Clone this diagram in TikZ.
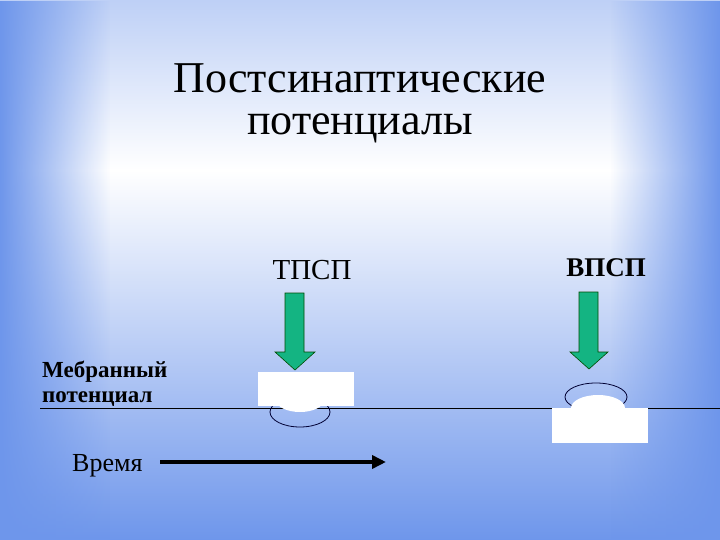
\documentclass[tikz,border=0pt]{standalone}
\usepackage{fontspec}
\setmainfont{Liberation Serif}
\usetikzlibrary{fadings,arrows.meta}
\definecolor{bgblue}{RGB}{110,150,235}
\definecolor{arrgreen}{RGB}{20,180,130}
\tikzset{
  garrow/.style={fill=arrgreen,draw=black!70!green,line width=0.6pt},
  wbox/.style={fill=white,draw=none},
  rim/.style={draw=black!80!blue,line width=0.8pt},
}
\begin{document}
\begin{tikzpicture}[x=1pt,y=-1pt]
\useasboundingbox (0,0) rectangle (720,540);
% background
\shade[top color=bgblue!45,bottom color=white] (0,0) rectangle (720,170);
\shade[top color=white,bottom color=bgblue] (0,170) rectangle (720,540);
\fill[bgblue,path fading=east] (0,0) rectangle (110,540);
\fill[bgblue,path fading=west] (610,0) rectangle (720,540);
% title
\node (t1) at (360,78) {\fontsize{44}{48}\selectfont Постсинаптические};
\node (t2) at (360,128) {\fontsize{44}{48}\selectfont потенциалы};
\node (l1) at (312,270) {\fontsize{29}{32}\selectfont ТПСП};
\node (l2) at (606,268) {\fontsize{27}{30}\selectfont\bfseries ВПСП};
% membrane line
\coordinate (m0) at (40,408);
\coordinate (m1) at (720,408);
\draw[line width=0.8pt] (m0) -- (m1);
% arrows
\draw[garrow] (285,293) -- (304,293) -- (304,352) -- (315,352) -- (295,370) -- (275,352) -- (285,352) -- cycle;
\draw[garrow] (579,292) -- (598,292) -- (598,352) -- (608,352) -- (589,369) -- (570,352) -- (579,352) -- cycle;
% TPSP
\draw[rim] (300,412) ellipse [x radius=30,y radius=15];
\fill[wbox] (258,372) rectangle (354,406);
\fill[white] (300,400) ellipse [x radius=24,y radius=12];
% VPSP
\draw[rim] (596,397) ellipse [x radius=31,y radius=14];
\fill[white] (598,408) ellipse [x radius=27,y radius=13];
\fill[wbox] (552,408) rectangle (648,443);
% left labels
\node[anchor=west,inner sep=0pt] (mp1) at (42,372) {\fontsize{23}{25}\selectfont\bfseries Мебранный};
\node[anchor=west,inner sep=0pt] (mp2) at (42,399) {\fontsize{23}{25}\selectfont\bfseries потенциал};
\node[anchor=west,inner sep=0pt] (tm) at (72,466) {\fontsize{26}{28}\selectfont Время};
\coordinate (a0) at (160,462);
\coordinate (a1) at (386,462);
\draw[line width=3.5pt,-{Triangle[length=14pt,width=13pt]}] (a0) -- (a1);
\end{tikzpicture}
\end{document}
